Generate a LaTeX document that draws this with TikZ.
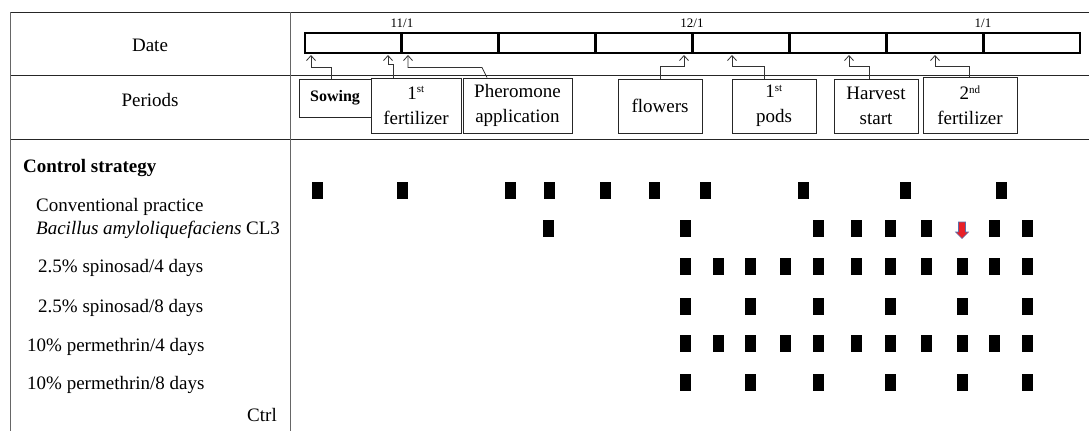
\documentclass[tikz,border=0pt]{standalone}
\usepackage{fontspec}
\setmainfont{Liberation Serif}
\usetikzlibrary{arrows.meta}
\definecolor{arrred}{RGB}{232,32,40}
\definecolor{arrblue}{RGB}{90,110,170}
\newcommand\mysup[1]{\textsuperscript{\fontsize{11}{11}\selectfont #1}}
\begin{document}
\begin{tikzpicture}[x=1pt,y=-1pt,
  txt/.style={font=\fontsize{19}{24}\selectfont, inner sep=0pt},
  lbl/.style={txt, anchor=base west},
  lblb/.style={font=\fontsize{19}{24}\selectfont\bfseries, inner sep=0pt, anchor=base west},
  datelbl/.style={font=\fontsize{13}{15}\selectfont, inner sep=0pt},
  cell/.style={draw, line width=2.8pt, minimum width=96.875pt, minimum height=20pt, inner sep=0pt},
  pbox/.style={draw=black!85, line width=0.9pt, align=center, inner sep=0pt, font=\fontsize{19}{25}\selectfont},
  conn/.style={draw=black!80, line width=0.8pt, -{Straight Barb[length=5pt,width=9pt,line width=0.8pt]}},
  blk/.style={fill=black, minimum width=11pt, minimum height=17pt, inner sep=0pt},
  grid/.style={line width=1pt, draw=black!85},
  vgrid/.style={line width=0.8pt, draw=black!60}
]
\useasboundingbox (0,0) rectangle (1089,431);

% table lines
\draw[grid] (10,12) -- (1089,12);
\draw[grid] (10,75) -- (1089,75);
\draw[grid] (10,139) -- (1089,139);
\draw[vgrid] (10,12) -- (10,431);
\draw[vgrid] (290,12) -- (290,431);

% left labels
\node[txt, anchor=base] (date) at (150,51) {Date};
\node[txt, anchor=base] (periods) at (150,106) {Periods};
\node[lblb] (cs) at (23,172) {Control strategy};
\node[lbl] (l1) at (36,211) {Conventional practice};
\node[lbl] (l2) at (36,234) {\textit{Bacillus amyloliquefaciens} CL3};
\node[lbl] (l3) at (38,272) {2.5\% spinosad/4 days};
\node[lbl] (l4) at (38,312) {2.5\% spinosad/8 days};
\node[lbl] (l5) at (27,351) {10\% permethrin/4 days};
\node[lbl] (l6) at (27,389) {10\% permethrin/8 days};
\node[txt, anchor=base east] (ctrl) at (277,421) {Ctrl};

% date bar
\foreach \i in {1,...,8}{
  \pgfmathsetmacro{\cx}{305+96.875*(\i-0.5)}
  \node[cell] (c\i) at (\cx,43) {};
}
\node[datelbl] (d1) at (402,23) {11/1};
\node[datelbl] (d2) at (692,23) {12/1};
\node[datelbl] (d3) at (983,23) {1/1};

% period boxes
\node[pbox, minimum width=72pt, minimum height=38pt, font=\fontsize{16}{20}\selectfont\bfseries] (sow) at (335,98) {Sowing};
\node[pbox, minimum width=90pt, minimum height=55pt] (fert1) at (416,105.5) {1\mysup{st}\\fertilizer};
\node[pbox, minimum width=109pt, minimum height=55pt] (pher) at (517.5,105.5) {Pheromone\\application};
\node[pbox, minimum width=84pt, minimum height=54pt] (flw) at (660,106) {flowers};
\node[pbox, minimum width=84pt, minimum height=54pt] (pods) at (774,106) {1\mysup{st}\\pods};
\node[pbox, minimum width=84pt, minimum height=54pt] (harv) at (876,106) {Harvest\\start};
\node[pbox, minimum width=94pt, minimum height=56pt] (fert2) at (970,105) {2\mysup{nd}\\fertilizer};

% arrow targets on the bar
\coordinate (t1) at (311,55);
\coordinate (t2) at (388,55);
\coordinate (t3) at (408,55);
\coordinate (t4) at (684,55);
\coordinate (t5) at (732,55);
\coordinate (t6) at (849,55);
\coordinate (t7) at (935,55);

% connectors
\draw[conn] ([xshift=-4pt]sow.north) -- ++(0,-11) -| (t1);
\draw[conn] ([xshift=-23pt]fert1.north) -- ++(0,-13) -| (t2);
\draw[conn] ([xshift=-30.5pt]pher.north) -- ++(-5,-10) -| (t3);
\draw[conn] (flw.north) -- ++(0,-12) -| (t4);
\draw[conn] ([xshift=-10pt]pods.north) -- ++(0,-12) -| (t5);
\draw[conn] ([xshift=-7pt]harv.north) -- ++(0,-12) -| (t6);
\draw[conn] ([xshift=-1pt]fert2.north) -- ++(0,-10) -| (t7);

% application marks
\foreach \x [count=\k] in {317,402,510,549,605,654,705,803,905,1001}
  \node[blk] (cv\k) at (\x,190) {};
\foreach \x [count=\k] in {548,685,818,856,890,926,994,1027}
  \node[blk] (ba\k) at (\x,228) {};
\foreach \x [count=\k] in {685,718,750,785,818,856,890,926,962,994,1027}
  \node[blk] (sa\k) at (\x,266) {};
\foreach \x [count=\k] in {685,750,818,890,962,1027}
  \node[blk] (sb\k) at (\x,306) {};
\foreach \x [count=\k] in {685,718,750,785,818,856,890,926,962,994,1027}
  \node[blk] (pa\k) at (\x,343) {};
\foreach \x [count=\k] in {685,750,818,890,962,1027}
  \node[blk] (pb\k) at (\x,382) {};

% red arrow
\filldraw[fill=arrred, draw=arrblue, line width=0.6pt, line join=miter]
  (958.5,222) -- (965.5,222) -- (965.5,232) -- (968.5,232) -- (962,238.5)
  -- (955.5,232) -- (958.5,232) -- cycle;
\end{tikzpicture}
\end{document}
